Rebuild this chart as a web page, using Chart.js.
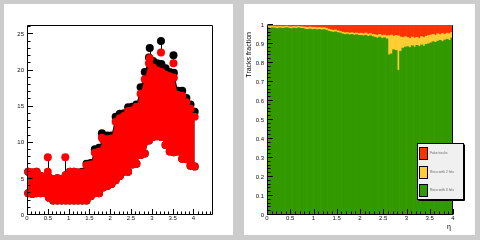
<!DOCTYPE html>
<html><head><meta charset="utf-8">
<script src="https://cdn.jsdelivr.net/npm/chart.js@4.4.1/dist/chart.umd.min.js"></script>
<style>
html,body{margin:0;padding:0;background:#cccccc;width:480px;height:240px;overflow:hidden}
.panel{position:absolute;background:#ffffff}
#p1{left:4px;top:4px;width:229px;height:231px}
#p2{left:244px;top:4px;width:231px;height:231px}
canvas{display:block}
</style></head><body>
<div class="panel" id="p1"><canvas id="c1" width="229" height="231"></canvas></div>
<div class="panel" id="p2"><canvas id="c2" width="231" height="231"></canvas></div>
<script>
// ---------- Left panel data ----------
const bandEta   = [0.03,0.13,0.23,0.33,0.43,0.53,0.63,0.73,0.83,0.93,1.03,1.13,1.23,1.33,1.43,1.53,1.63,1.73,1.83,1.93,2.03,2.13,2.23,2.33,2.43,2.53,2.63,2.73,2.83,2.93,3.03,3.13,3.23,3.33,3.43,3.53,3.63,3.73,3.83,3.93,4.03];
const redHigh   = [6.0,5.9,6.0,5.4,5.1,5.2,5.0,5.1,5.0,5.5,6.0,6.0,5.9,5.9,6.9,7.0,8.6,8.8,10.4,10.5,10.6,12.9,13.4,13.7,14.4,14.5,15.0,16.8,18.8,21.0,20.4,20.0,19.8,19.4,19.2,19.0,16.6,16.5,15.6,14.7,13.6];
const blackHigh = [6.0,5.9,6.0,5.4,5.1,5.2,5.0,5.1,5.0,5.5,6.0,6.0,5.9,6.0,7.1,7.2,9.1,9.3,10.9,11.0,11.0,13.6,14.0,14.1,14.9,15.0,15.3,17.7,19.8,21.8,21.3,21.0,20.9,20.3,19.8,19.7,17.2,17.2,16.2,15.3,14.3];
const bandLow   = [3.0,2.9,3.0,3.0,3.0,2.4,2.0,2.0,2.0,2.0,2.0,2.0,2.0,2.0,2.0,2.6,3.0,3.0,3.8,4.0,4.3,4.8,5.4,6.0,6.0,7.0,7.1,8.3,8.5,10.3,10.8,10.9,10.8,9.7,8.8,8.7,8.8,7.8,7.7,6.8,6.7];
const redPtEta   = [0.50,0.50,0.92,1.80,2.95,3.22,3.52];
const redPtVal   = [8.0,6.0,8.0,10.7,21.7,22.5,21.0];
const redPtErr   = [2.0,0,2.4,0,0,0,0];
const blackPtEta = [1.80,2.95,3.22,3.52];
const blackPtVal = [11.3,23.1,24.1,22.1];
const blackPtErr = [0.6,1.4,1.6,1.1];
const countTicks = [0,5,10,15,20,25];
const etaTicks   = [0,0.5,1,1.5,2,2.5,3,3.5,4];

// ---------- Right panel data ----------
const binEta = [0.025,0.075,0.125,0.175,0.225,0.275,0.325,0.375,0.425,0.475,0.525,0.575,0.625,0.675,0.725,0.775,0.825,0.875,0.925,0.975,1.025,1.075,1.125,1.175,1.225,1.275,1.325,1.375,1.425,1.475,1.525,1.575,1.625,1.675,1.725,1.775,1.825,1.875,1.925,1.975,2.025,2.075,2.125,2.175,2.225,2.275,2.325,2.375,2.425,2.475,2.525,2.575,2.625,2.675,2.725,2.775,2.825,2.875,2.925,2.975,3.025,3.075,3.125,3.175,3.225,3.275,3.325,3.375,3.425,3.475,3.525,3.575,3.625,3.675,3.725,3.775,3.825,3.875,3.925,3.975];
const greenTop = [0.985,0.983,0.986,0.984,0.982,0.985,0.983,0.984,0.986,0.983,0.981,0.984,0.982,0.985,0.983,0.982,
  0.978,0.977,0.979,0.976,0.978,0.975,0.977,0.974,0.976,0.973,
  0.968,0.965,0.962,0.964,0.960,0.958,
  0.953,0.950,0.952,0.948,0.951,0.947,0.949,0.946,
  0.945,0.943,0.946,0.940,0.944,0.939,
  0.936,0.931,0.937,0.929,0.933,0.927,
  0.843,0.848,0.870,0.866,0.762,0.862,0.878,0.884,
  0.886,0.881,0.891,0.884,0.893,0.887,0.895,0.889,0.898,0.901,
  0.906,0.912,0.909,0.915,0.919,0.913,0.921,0.925,0.919,0.932];
const yellowTop = [0.993,0.992,0.994,0.992,0.991,0.993,0.991,0.992,0.994,0.991,0.990,0.992,0.991,0.993,0.991,0.990,
  0.989,0.988,0.990,0.987,0.988,0.986,0.987,0.985,0.986,0.983,
  0.978,0.975,0.972,0.974,0.969,0.966,
  0.962,0.959,0.961,0.957,0.960,0.956,0.958,0.955,
  0.957,0.954,0.958,0.952,0.955,0.950,
  0.949,0.946,0.951,0.944,0.947,0.943,
  0.944,0.947,0.941,0.945,0.943,0.937,0.934,0.939,
  0.934,0.929,0.937,0.931,0.935,0.929,0.939,0.934,0.941,0.944,
  0.947,0.951,0.945,0.954,0.949,0.955,0.951,0.957,0.954,0.961];
const fracTicks = [0,0.1,0.2,0.3,0.4,0.5,0.6,0.7,0.8,0.9,1];
const legendLabels = ['Fake tracks','Reco with 2 hits','Reco with 3 hits'];
const yTitle = 'Tracks fraction';
const xTitle = '\u03B7';

// ---------- helpers ----------
const FONT = {family:"'Liberation Sans', Arial, Helvetica, sans-serif", size:6};
const LABEL_COLOR = '#111';
const fixedTicks = vals => scale => { scale.ticks = vals.map(v => ({value:v})); };
const pts = (xs, ys) => xs.map((x,i) => ({x:x, y:ys[i]}));

const axisDecor = {
  id:'axisDecor',
  afterDatasetsDraw(chart, args, o) {
    const ctx = chart.ctx, a = chart.chartArea, xs = chart.scales.x, ys = chart.scales.y;
    const L = Math.round(a.left)+0.5, R = Math.round(a.right)-0.5, T = Math.round(a.top)+0.5, B = Math.round(a.bottom)-0.5;
    ctx.save();
    ctx.strokeStyle = '#000'; ctx.lineWidth = 1;
    ctx.beginPath();
    if (o.top) { ctx.moveTo(L,T); ctx.lineTo(R,T); }
    ctx.moveTo(L,T); ctx.lineTo(L,B); ctx.lineTo(R,B); ctx.lineTo(R,T);
    const isMajor = (list, v) => list.some(m => Math.abs(m - v) < 1e-6);
    for (let k = Math.ceil(xs.min/o.xMinor - 1e-9); k*o.xMinor <= xs.max + 1e-9; k++) {
      const v = k*o.xMinor;
      const px = Math.round(xs.getPixelForValue(v)) + 0.5;
      const len = isMajor(o.xMajor, v) ? o.majorLen : o.minorLen;
      ctx.moveTo(px, B); ctx.lineTo(px, B - len);
    }
    for (let k = Math.ceil(ys.min/o.yMinor - 1e-9); k*o.yMinor <= ys.max + 1e-9; k++) {
      const v = k*o.yMinor;
      const py = Math.round(ys.getPixelForValue(v)) - 0.5;
      const len = isMajor(o.yMajor, v) ? o.majorLen : o.minorLen;
      ctx.moveTo(L, py); ctx.lineTo(L + len, py);
    }
    ctx.stroke();
    ctx.restore();
  }
};

const errorBars = {
  id:'errorBars',
  beforeDatasetsDraw(chart, args, o) {
    const ctx = chart.ctx, xs = chart.scales.x, ys = chart.scales.y;
    ctx.save();
    ctx.strokeStyle = '#000'; ctx.lineWidth = 1;
    ctx.beginPath();
    o.sets.forEach(s => {
      s.x.forEach((x,i) => {
        if (!s.err[i]) return;
        const px = Math.round(xs.getPixelForValue(x)) + 0.5;
        ctx.moveTo(px, ys.getPixelForValue(s.y[i]));
        ctx.lineTo(px, ys.getPixelForValue(s.y[i] - s.err[i]));
      });
    });
    ctx.stroke();
    ctx.restore();
  }
};

// ---------- Left chart ----------
const bandStyle = (color) => ({
  borderColor:'rgba(0,0,0,0)', borderWidth:0, backgroundColor:color,
  pointBackgroundColor:color, pointBorderWidth:0, pointRadius:4, tension:0, clip:false
});
new Chart(document.getElementById('c1'), {
  type:'line',
  data:{datasets:[
    Object.assign({label:'red points', data:pts(redPtEta, redPtVal), showLine:false}, bandStyle('#ff0000')),
    Object.assign({label:'red high', data:pts(bandEta, redHigh), fill:'+1'}, bandStyle('#ff0000')),
    Object.assign({label:'red low', data:pts(bandEta, bandLow), fill:false}, bandStyle('#ff0000')),
    Object.assign({label:'black points', data:pts(blackPtEta, blackPtVal), showLine:false}, bandStyle('#000000')),
    Object.assign({label:'black high', data:pts(bandEta, blackHigh), fill:'+1'}, bandStyle('#000000')),
    Object.assign({label:'black low', data:pts(bandEta, bandLow), fill:false}, bandStyle('#000000'))
  ]},
  options:{
    responsive:false, animation:false, devicePixelRatio:1,
    layout:{padding:{top:21,right:20,left:0,bottom:0}},
    plugins:{legend:{display:false}, tooltip:{enabled:false},
      axisDecor:{xMinor:0.1, yMinor:1, xMajor:etaTicks, yMajor:countTicks, majorLen:5.5, minorLen:3, top:true},
      errorBars:{sets:[{x:redPtEta,y:redPtVal,err:redPtErr},{x:blackPtEta,y:blackPtVal,err:blackPtErr}]}
    },
    scales:{
      x:{type:'linear', min:0, max:4.47, afterBuildTicks:fixedTicks(etaTicks), afterFit:s=>{s.height=20;},
         grid:{display:false, drawTicks:false}, border:{display:false},
         ticks:{font:FONT, color:LABEL_COLOR, padding:0, maxRotation:0, minRotation:0, autoSkip:false, callback:v=>String(v)}},
      y:{type:'linear', min:0, max:26.3, afterBuildTicks:fixedTicks(countTicks), afterFit:s=>{s.width=23;},
         grid:{display:false, drawTicks:false}, border:{display:false},
         ticks:{font:FONT, color:LABEL_COLOR, padding:3, autoSkip:false, callback:v=>String(v)}}
    }
  },
  plugins:[axisDecor, errorBars]
});

// ---------- Right chart ----------
const COLORS = {red:'#ff3300', yellow:'#ffcc33', green:'#339900'};
const legendTitles = {
  id:'legendTitles',
  afterDraw(chart) {
    const ctx = chart.ctx, a = chart.chartArea;
    ctx.save();
    // y title
    ctx.fillStyle = '#000';
    ctx.font = "7px 'Liberation Sans', Arial, sans-serif";
    ctx.translate(5, 28); ctx.rotate(-Math.PI/2);
    ctx.textAlign = 'right'; ctx.textBaseline = 'middle';
    ctx.fillText(yTitle, 0, 0);
    ctx.setTransform(1,0,0,1,0,0);
    // x title
    ctx.textAlign = 'center'; ctx.textBaseline = 'middle';
    ctx.fillText(xTitle, a.right - 4, 223);
    // legend box
    const bx = Math.round(a.right) - 36 + 0.5, by = 139.5, bw = 46, bh = 56;
    ctx.fillStyle = '#f0f0f0'; ctx.fillRect(bx, by, bw, bh);
    ctx.strokeStyle = '#000'; ctx.lineWidth = 1; ctx.strokeRect(bx, by, bw, bh);
    ctx.beginPath(); ctx.moveTo(bx+bw+1, by+1); ctx.lineTo(bx+bw+1, by+bh+1); ctx.lineTo(bx+1, by+bh+1); ctx.stroke();
    const order = [2,1,0];
    const tops = [4, 23, 41];
    order.forEach((dsIndex, j) => {
      const ds = chart.data.datasets[dsIndex];
      const sx = bx + 2, sy = by + tops[j];
      ctx.fillStyle = ds.backgroundColor; ctx.fillRect(sx, sy, 8, 12);
      ctx.strokeRect(sx, sy, 8, 12);
      ctx.fillStyle = '#666';
      ctx.font = "3.4px 'Liberation Sans', Arial, sans-serif";
      ctx.textAlign = 'left'; ctx.textBaseline = 'middle';
      ctx.fillText(ds.label, sx + 10.5, sy + 6);
    });
    ctx.restore();
  }
};
new Chart(document.getElementById('c2'), {
  type:'bar',
  data:{datasets:[
    {label:legendLabels[2], data:binEta.map((x,i)=>({x:x, y:greenTop[i]})), backgroundColor:COLORS.green},
    {label:legendLabels[1], data:binEta.map((x,i)=>({x:x, y:yellowTop[i]-greenTop[i]})), backgroundColor:COLORS.yellow},
    {label:legendLabels[0], data:binEta.map((x,i)=>({x:x, y:1-yellowTop[i]})), backgroundColor:COLORS.red}
  ]},
  options:{
    responsive:false, animation:false, devicePixelRatio:1,
    layout:{padding:{top:21,right:22,left:0,bottom:0}},
    datasets:{bar:{barPercentage:1, categoryPercentage:1, borderWidth:0}},
    plugins:{legend:{display:false}, tooltip:{enabled:false},
      axisDecor:{xMinor:0.1, yMinor:0.02, xMajor:etaTicks, yMajor:fracTicks, majorLen:5.5, minorLen:3, top:false}
    },
    scales:{
      x:{type:'linear', stacked:true, offset:false, min:0, max:4, afterBuildTicks:fixedTicks(etaTicks), afterFit:s=>{s.height=20;},
         grid:{display:false, drawTicks:false}, border:{display:false},
         ticks:{font:FONT, color:LABEL_COLOR, padding:0, maxRotation:0, minRotation:0, autoSkip:false, callback:v=>String(v)}},
      y:{type:'linear', stacked:true, min:0, max:1, afterBuildTicks:fixedTicks(fracTicks), afterFit:s=>{s.width=23;},
         grid:{display:false, drawTicks:false}, border:{display:false},
         ticks:{font:FONT, color:LABEL_COLOR, padding:3, autoSkip:false, callback:v=>String(v)}}
    }
  },
  plugins:[axisDecor, legendTitles]
});
</script></body></html>
